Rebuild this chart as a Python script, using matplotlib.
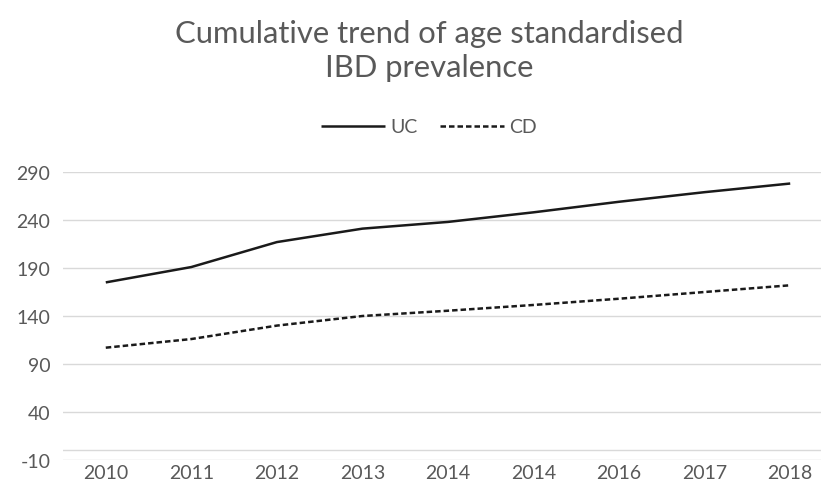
import matplotlib
matplotlib.use('Agg')
import matplotlib.pyplot as plt

years = ['2010', '2011', '2012', '2013', '2014', '2014', '2016', '2017', '2018']
uc = [175, 191, 217, 231, 238, 248, 259, 269, 278]
cd = [107, 116, 130, 140, 145.5, 151.5, 158, 165, 172]
yticks = [-10, 40, 90, 140, 190, 240, 290]

plt.rcParams['font.family'] = ['Lato', 'DejaVu Sans']
plt.rcParams['axes.unicode_minus'] = False
grey = '#595959'

fig = plt.figure(figsize=(8.21, 4.85), dpi=100)
ax = fig.add_axes([63 / 821, 24 / 485, 770 / 821, 288 / 485])

x = list(range(len(years)))
ax.plot(x, uc, color='#1a1a1a', lw=1.8, label='UC', solid_capstyle='butt')
ax.plot(x, cd, color='#1a1a1a', lw=1.8, ls=(0, (2.2, 1.2)), label='CD', dash_capstyle='butt')

ax.set_xlim(-0.5, len(years) - 0.5)
ax.set_ylim(-10, 290)
ax.set_yticks(yticks)
ax.set_xticks(x)
ax.set_xticklabels(years)
ax.grid(axis='y', color='#d9d9d9', lw=1)
ax.axhline(0, color='#d9d9d9', lw=1)
ax.set_axisbelow(True)
for s in ax.spines.values():
    s.set_visible(False)
ax.tick_params(length=0, labelsize=14, colors=grey, pad=3)
ax.tick_params(axis='y', pad=9)

# chart centre sits a bit right of the picture centre (image is cropped on the right)
cx = 429 / 821
fig.text(cx, 1 - 51 / 485, 'Cumulative trend of age standardised\nIBD prevalence', ha='center', va='center',
         fontsize=22.3, color=grey, linespacing=1.3)
fig.legend(loc='center', bbox_to_anchor=(cx, 1 - 128 / 485), ncol=2, frameon=False,
           fontsize=14, labelcolor=grey, handlelength=3.3, columnspacing=1.1, handletextpad=0.3)

fig.savefig('out.png', dpi=100)
